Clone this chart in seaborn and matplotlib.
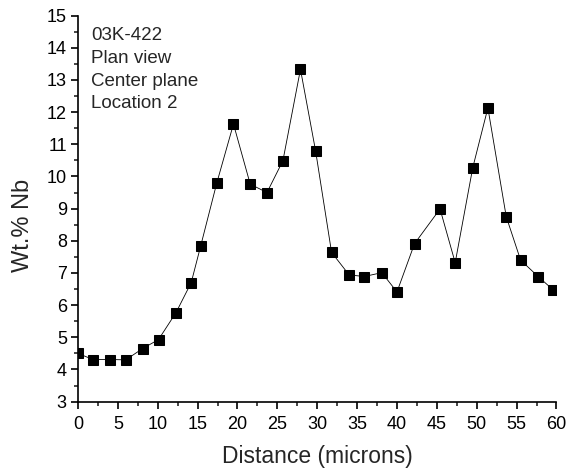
import matplotlib
matplotlib.use("Agg")
import matplotlib.pyplot as plt
from matplotlib.ticker import MultipleLocator
import pandas as pd
import seaborn as sns

# ---------------------------------
# Data
# ---------------------------------

distance = [0.0, 1.9, 4.0, 6.0, 8.1, 10.1, 12.3, 14.2, 15.4, 17.4,
            19.5, 21.6, 23.7, 25.7, 27.9, 29.8, 31.8, 34.0, 35.9, 38.1,
            40.0, 42.2, 45.4, 47.3, 49.5, 51.4, 53.7, 55.5, 57.7, 59.6]
wt_nb = [4.50, 4.31, 4.31, 4.30, 4.65, 4.93, 5.77, 6.70, 7.85, 9.79,
         11.63, 9.76, 9.50, 10.49, 13.33, 10.79, 7.64, 6.94, 6.89, 7.01,
         6.41, 7.91, 8.99, 7.32, 10.27, 12.13, 8.75, 7.40, 6.89, 6.47]
note_lines = ["03K-422", "Plan view", "Center plane", "Location 2"]

df = pd.DataFrame({"distance": distance, "wt_nb": wt_nb})

# ---------------------------------
# Style
# ---------------------------------

sns.set_style("ticks")
plt.rcParams["font.family"] = ["Liberation Sans", "DejaVu Sans"]

fig = plt.figure(figsize=(5.69, 4.72), dpi=100)
ax = fig.add_axes([0.137, 0.149, 0.841, 0.818])

sns.lineplot(
    data=df, x="distance", y="wt_nb", ax=ax,
    color="black", linewidth=0.6, marker="s", markersize=6.5,
    markeredgecolor="black", markerfacecolor="black", sort=False
)

ax.set_xlim(0, 60)
ax.set_ylim(3, 15)
ax.xaxis.set_major_locator(MultipleLocator(5))
ax.xaxis.set_minor_locator(MultipleLocator(2.5))
ax.yaxis.set_major_locator(MultipleLocator(1))
ax.yaxis.set_minor_locator(MultipleLocator(0.5))

ax.tick_params(which="major", direction="out", length=5, width=1.2,
               labelsize=13, colors="black")
ax.tick_params(axis="x", which="major", pad=5)
ax.tick_params(axis="y", which="major", pad=3)
ax.tick_params(which="minor", direction="out", length=3, width=1.2)

for side in ["top", "right"]:
    ax.spines[side].set_visible(False)
for side in ["left", "bottom"]:
    ax.spines[side].set_linewidth(1.2)
    ax.spines[side].set_color("black")

ax.set_xlabel("Distance (microns)", fontsize=16.5, labelpad=9)
ax.set_ylabel("Wt.% Nb", fontsize=17)
ax.yaxis.set_label_coords(-0.092, 0.456)

ax.text(0.028, 0.97, "\n".join(note_lines), transform=ax.transAxes,
        fontsize=13.5, va="top", ha="left", linespacing=1.44)

fig.savefig("out.png", dpi=100)
